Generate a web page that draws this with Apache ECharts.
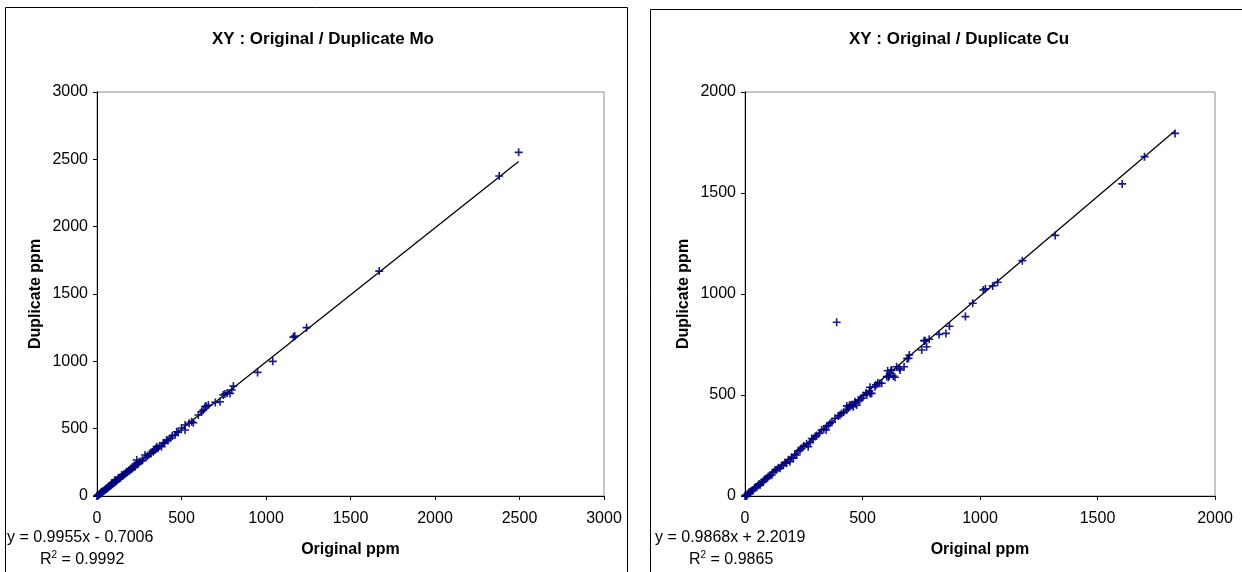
<!DOCTYPE html>
<html>
<head>
<meta charset="utf-8">
<script src="https://cdn.jsdelivr.net/npm/echarts@6/dist/echarts.min.js"></script>
<style>
  html, body { margin: 0; padding: 0; background: #fff; }
  #chart { width: 1242px; height: 572px; }
</style>
</head>
<body>
<div id="chart"></div>
<script>
// Mo duplicates: original vs duplicate assay (ppm)
const moOriginal = [0,3,5,8,12,15,18,22,25,28,32,36,40,45,47,52,56,60,64,67,70,75,80,84,87,92,96,100,104,107,110,115,120,126,130,135,140,146,150,155,160,166,170,176,180,186,190,195,200,205,210,215,220,225,230,235,240,245,250,260,270,284,290,300,310,320,333,338,343,348,353,360,370,382,393,400,412,420,432,445,462,471,480,500,521,521,545,560,570,600,619,629,639,659,645,700,728,747,757,770,787,797,807,950,1040,1162,1170,1240,1670,2380,2495];
const moDuplicate = [0,2,6,7,10,14,16,20,27,32,30,35,38,47,45,50,58,55,62,69,66,74,78,83,94,88,99,97,105,119,106,113,118,131,126,137,136,156,148,152,162,164,172,180,176,188,185,193,202,198,215,212,226,218,232,267,236,243,252,258,266,304,286,298,314,316,329,346,341,350,366,355,372,366,391,396,416,413,428,446,453,477,472,505,527,490,540,552,544,601,626,638,663,676,668,695,700,750,757,765,762,787,817,918,1000,1180,1188,1250,1670,2376,2552];

// Cu duplicates: original vs duplicate assay (ppm)
const cuOriginal = [0,3,7,10,14,18,21,25,30,35,40,44,50,55,60,64,70,78,82,88,95,99,105,114,120,128,135,142,149,155,163,170,177,185,191,198,206,212,220,226,234,241,250,262,269,277,284,290,298,305,316,326,335,345,348,355,362,370,383,390,397,404,411,420,433,433,440,444,447,455,461,468,468,475,482,489,497,505,515,518,529,532,532,539,553,557,565,574,582,603,607,610,614,617,621,624,631,638,645,657,660,677,690,696,699,752,762,766,773,784,826,855,870,938,969,1014,1023,1054,1075,1180,1320,1605,1700,1830];
const cuDuplicate = [0,5,0,8,12,20,13,22,26,30,38,42,46,52,60,54,66,71,80,86,90,96,100,104,118,129,130,140,137,150,153,165,162,180,170,192,187,205,203,224,228,236,248,258,244,264,285,282,294,300,310,327,330,327,347,350,360,365,385,860,396,400,409,415,426,446,436,446,450,448,442,459,467,450,475,475,484,498,511,500,520,508,538,508,541,550,560,558,558,591,620,588,594,607,620,624,594,588,640,632,624,640,680,682,698,723,769,769,739,776,800,805,840,888,954,1020,1026,1040,1058,1165,1290,1545,1680,1795];

// Chart titles, axis ticks and fitted trend lines
const chartTitles = ['XY : Original / Duplicate Mo', 'XY : Original / Duplicate Cu'];
const axisMax = [3000, 2000];
const axisInterval = [500, 500];
const trendSlope = [0.9955, 0.9868];
const trendIntercept = [-0.7006, 2.2019];
const trendR2 = [0.9992, 0.9865];
const xAxisName = 'Original ppm';
const yAxisName = 'Duplicate ppm';

const FONT = '"Liberation Sans", Arial, sans-serif';
const MARK = 'path://M4,0H6V4H10V6H6V10H4V6H0V4H4Z';

const panels = [
  { ori: moOriginal, dup: moDuplicate, grid: { left: 97, top: 92, width: 507, height: 404 },
    titleX: 318, frame: { x: 5, y: 7, w: 622 }, eqX: 7, r2X: 40 },
  { ori: cuOriginal, dup: cuDuplicate, grid: { left: 745, top: 92, width: 470, height: 404 },
    titleX: 954, frame: { x: 650, y: 9, w: 600 }, eqX: 655, r2X: 689 }
];

function fmtEq(i) {
  const b = trendIntercept[i];
  return 'y = ' + trendSlope[i] + 'x ' + (b < 0 ? '- ' : '+ ') + Math.abs(b);
}

const option = {
  animation: false,
  backgroundColor: '#ffffff',
  textStyle: { fontFamily: FONT },
  title: panels.map((p, i) => ({
    text: chartTitles[i], left: p.titleX, top: 26, textAlign: 'center',
    textStyle: { fontFamily: FONT, fontSize: 17, fontWeight: 'bold', color: '#000' }
  })),
  grid: panels.map(p => Object.assign({
    show: true, borderColor: '#8c8c8c', borderWidth: 1, backgroundColor: '#fff'
  }, p.grid)),
  xAxis: panels.map((p, i) => ({
    gridIndex: i, type: 'value', min: 0, max: axisMax[i], interval: axisInterval[i],
    name: xAxisName, nameLocation: 'middle', nameGap: 46,
    nameTextStyle: { fontFamily: FONT, fontSize: 16, fontWeight: 'bold', color: '#000' },
    axisLine: { show: true, onZero: false, lineStyle: { color: '#000', width: 1 } },
    axisTick: { show: true, length: 4, lineStyle: { color: '#000' } },
    axisLabel: { fontFamily: FONT, fontSize: 16, color: '#000', margin: 15,
                 formatter: v => String(v) },
    splitLine: { show: false }
  })),
  yAxis: panels.map((p, i) => ({
    gridIndex: i, type: 'value', min: 0, max: axisMax[i], interval: axisInterval[i],
    name: yAxisName, nameLocation: 'middle', nameGap: 53,
    nameTextStyle: { fontFamily: FONT, fontSize: 16, fontWeight: 'bold', color: '#000' },
    axisLine: { show: true, onZero: false, lineStyle: { color: '#000', width: 1 } },
    axisTick: { show: true, length: 4, lineStyle: { color: '#000' } },
    axisLabel: { fontFamily: FONT, fontSize: 16, color: '#000', margin: 9,
                 formatter: v => String(v) },
    splitLine: { show: false }
  })),
  series: [],
  graphic: []
};

panels.forEach((p, i) => {
  const pts = p.ori.map((x, k) => [x, p.dup[k]]);
  const xMin = Math.min.apply(null, p.ori);
  const xMax = Math.max.apply(null, p.ori);
  option.series.push({
    type: 'line', xAxisIndex: i, yAxisIndex: i, silent: true, symbol: 'none',
    clip: true, z: 2,
    lineStyle: { color: '#000', width: 1.3 },
    data: [[xMin, trendSlope[i] * xMin + trendIntercept[i]],
           [xMax, trendSlope[i] * xMax + trendIntercept[i]]]
  });
  option.series.push({
    type: 'scatter', xAxisIndex: i, yAxisIndex: i, z: 3,
    symbol: MARK, symbolSize: 8,
    itemStyle: { color: '#000080', opacity: 0.9 },
    data: pts
  });
  // outer chart frame
  option.graphic.push({
    type: 'rect', silent: true, z: -10,
    shape: { x: p.frame.x + 0.5, y: p.frame.y + 0.5, width: p.frame.w, height: 600 },
    style: { fill: 'none', stroke: '#000', lineWidth: 1 }
  });
  // regression equation and R²
  option.graphic.push({
    type: 'text', left: p.eqX, top: 530, silent: true,
    style: { text: fmtEq(i), font: '16px ' + FONT, fill: '#000' }
  });
  option.graphic.push({
    type: 'text', left: p.r2X, top: 548, silent: true,
    style: {
      text: '{a|R}{s|2}{a| = ' + trendR2[i] + '}',
      font: '16px ' + FONT, fill: '#000',
      rich: {
        a: { fontFamily: FONT, fontSize: 16, fill: '#000', lineHeight: 20, verticalAlign: 'bottom' },
        s: { fontFamily: FONT, fontSize: 10, fill: '#000', lineHeight: 20, verticalAlign: 'top', padding: [2, 0, 0, 0] }
      }
    }
  });
});

const chart = echarts.init(document.getElementById('chart'), null, { renderer: 'canvas' });
chart.setOption(option);
</script>
</body>
</html>
